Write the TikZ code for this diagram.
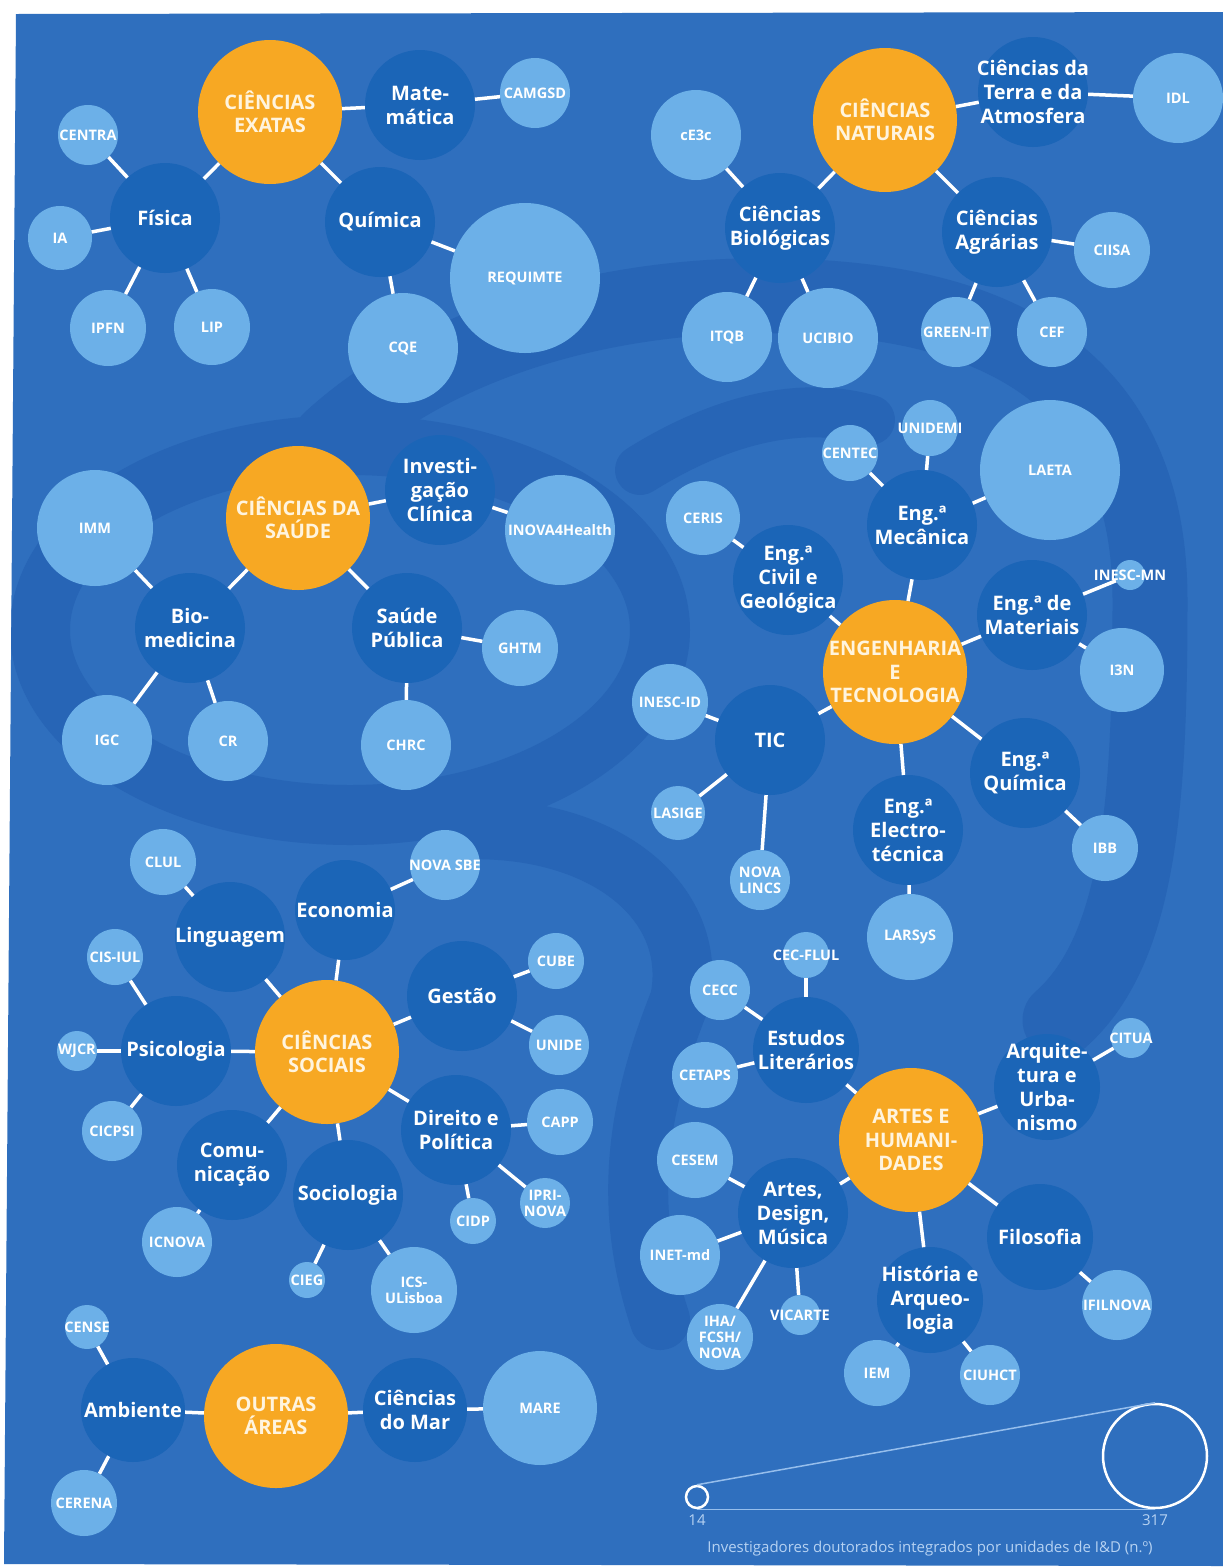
\documentclass[tikz,border=0pt]{standalone}
\usepackage{fontspec}
\setmainfont{Open Sans}
\usetikzlibrary{positioning}

\definecolor{page}{RGB}{47,111,190}
\definecolor{swirl}{RGB}{39,101,182}
\definecolor{fieldblue}{RGB}{27,101,183}
\definecolor{unitblue}{RGB}{108,176,232}
\definecolor{areaorange}{RGB}{247,168,35}
\definecolor{areatext}{RGB}{255,244,222}
\definecolor{scaleblue}{RGB}{150,190,236}

\tikzset{
	area/.style={
		shape = circle,
		fill = areaorange,
		inner sep = 0pt,
		minimum size = 144
	},
	field/.style={
		shape = circle,
		fill = fieldblue,
		inner sep = 0pt
	},
	unit/.style={
		shape = circle,
		fill = unitblue,
		inner sep = 0pt
	},
	areatxt/.style={text=areatext, align=center, font=\fontsize{20}{23.5}\selectfont\bfseries},
	fieldtxt/.style={text=white, align=center, font=\fontsize{20}{24}\selectfont\bfseries},
	unittxt/.style={text=white, align=center, font=\fontsize{14.5}{16}\selectfont\bfseries},
	link/.style={draw=white, line width=3.5pt},
	band/.style={draw=swirl, line cap=round},
	scalemark/.style={shape=circle, draw=white, line width=2.5pt, inner sep=0pt},
	scaleline/.style={draw=scaleblue, line width=1.5pt},
	scaletxt/.style={text=scaleblue!70!white, font=\fontsize{15}{17}\selectfont, inner sep=1pt},
}

\begin{document}
\begin{tikzpicture}[x=1pt, y=-1pt]
  \useasboundingbox (0,0) rectangle (1223,1567);
  \fill[white] (0,0) rectangle (1223,1567);
  \fill[page] (16,14) -- (1223,12) -- (1223,1566) -- (4,1564) -- cycle;

  % darker swirl behind the bubbles
  \begin{scope}
    \clip (16,14) -- (1223,12) -- (1223,1566) -- (4,1564) -- cycle;
    \draw[band, line width=75pt] (330,440) .. controls (450,330) and (650,280) .. (850,300)
      .. controls (1050,320) and (1150,420) .. (1150,600)
      .. controls (1150,800) and (1140,950) .. (1060,1020);
    \draw[band, line width=60pt] (350,630) ellipse [x radius=310, y radius=185];
    \draw[band, line width=60pt] (450,830) .. controls (600,820) and (700,900) .. (680,1000)
      .. controls (640,1100) and (620,1200) .. (660,1320);
    \draw[band, line width=50pt] (640,470) .. controls (720,420) and (800,400) .. (870,420);
  \end{scope}

  % research units
  \foreach \nd/\px/\py/\dia/\lbl in {
      camgsd/535/93/70/CAMGSD, centra/88/135/60/CENTRA, ia/60/238/64/IA,
      ipfn/108/328/76/IPFN, lip/212/327/76/LIP, requimte/525/278/150/REQUIMTE,
      cqe/403/348/110/CQE, idl/1178/98/90/IDL, cee3c/696/135/90/cE3c,
      itqb/727/337/90/ITQB, ucibio/828/338/100/UCIBIO, ciisa/1112/250/76/CIISA,
      greenit/956/332/70/GREEN-IT, cef/1052/332/70/CEF,
      inova/560/530/110/INOVA4Health, imm/95/528/116/IMM, igc/107/740/90/IGC,
      cr/228/741/80/CR, ghtm/520/648/76/GHTM, chrc/406/745/90/CHRC,
      unidemi/930/428/56/UNIDEMI, centec/850/453/56/CENTEC, laeta/1050/470/140/LAETA,
      ceris/703/518/74/CERIS, inescmn/1130/575/30/INESC-MN, i3n/1122/670/84/I3N,
      inescid/670/702/76/INESC-ID, lasige/678/813/54/LASIGE,
      novalincs/760/880/60/{NOVA\\LINCS}, ibb/1105/848/66/IBB, larsys/910/937/86/LARSyS,
      clul/163/862/66/CLUL, novasbe/445/865/70/{NOVA SBE}, cube/556/961/56/CUBE,
      unide/559/1045/60/UNIDE, cisiul/115/957/56/CIS-IUL, wjcr/77/1051/40/WJCR,
      cicpsi/112/1131/60/CICPSI, capp/560/1122/66/CAPP, iprinova/545/1203/50/{IPRI-\\NOVA},
      cidp/473/1221/46/CIDP, icnova/177/1242/70/ICNOVA, cieg/307/1280/36/CIEG,
      icsulisboa/414/1290/86/{ICS-\\ULisboa}, cecflul/806/955/46/CEC-FLUL,
      cecc/720/990/60/CECC, cetaps/705/1075/66/CETAPS, citua/1131/1038/40/CITUA,
      cesem/695/1160/76/CESEM, inetmd/680/1255/80/INET-md,
      iha/720/1337/66/{IHA/\\FCSH/\\NOVA}, vicarte/800/1315/40/VICARTE,
      ifilnova/1117/1305/70/IFILNOVA, iem/877/1373/66/IEM, ciuhct/990/1375/60/CIUHCT,
      cense/87/1327/44/CENSE, cerena/84/1503/66/CERENA, mare/540/1408/114/MARE}{
    \node[unit, minimum size=\dia] (\nd) at (\px,\py) {};
    \node[unittxt] at (\nd) {\lbl};
  }

  % scientific fields
  \foreach \nd/\px/\py/\dia/\lbl in {
      matematica/420/105/110/{Mate-\\mática}, fisica/165/218/110/Física,
      quimica/380/222/110/Química, terra/1033/92/110/{Ciências da\\Terra e da\\Atmosfera},
      biologicas/780/228/110/{Ciências\\Biológicas}, agrarias/997/232/110/{Ciências\\Agrárias},
      investigacao/440/490/110/{Investi-\\gação\\Clínica}, biomedicina/190/628/110/{Bio-\\medicina},
      publica/407/628/110/{Saúde\\Pública}, mecanica/922/525/110/{Eng.ª\\Mecânica},
      civil/788/580/110/{Eng.ª\\Civil e\\Geológica}, materiais/1032/615/110/{Eng.ª de\\Materiais},
      tic/770/740/110/TIC, equimica/1025/773/110/{Eng.ª\\Química},
      electro/908/830/110/{Eng.ª\\Electro-\\técnica}, linguagem/230/937/110/Linguagem,
      economia/345/910/100/Economia, gestao/462/996/110/Gestão,
      psicologia/176/1051/110/Psicologia, direito/456/1130/110/{Direito e\\Política},
      comunicacao/232/1165/110/{Comu-\\nicação}, sociologia/348/1195/110/Sociologia,
      estudos/806/1050/106/{Estudos\\Literários}, arquitetura/1047/1087/106/{Arquite-\\tura e\\Urba-\\nismo},
      adm/793/1213/110/{Artes,\\Design,\\Música}, filosofia/1040/1237/106/Filosofia,
      historia/930/1300/106/{História e\\Arqueo-\\logia}, ambiente/133/1410/104/Ambiente,
      mar/415/1410/104/{Ciências\\do Mar}}{
    \node[field, minimum size=\dia] (\nd) at (\px,\py) {};
    \node[fieldtxt] at (\nd) {\lbl};
  }

  % the seven areas
  \foreach \nd/\px/\py/\lbl in {
      exatas/270/112/{CIÊNCIAS\\EXATAS}, naturais/885/120/{CIÊNCIAS\\NATURAIS},
      saude/298/518/{CIÊNCIAS DA\\SAÚDE}, engenharia/895/672/{ENGENHARIA\\E\\TECNOLOGIA},
      sociais/327/1052/{CIÊNCIAS\\SOCIAIS}, artes/911/1140/{ARTES E\\HUMANI-\\DADES},
      outras/276/1416/{OUTRAS\\ÁREAS}}{
    \node[area] (\nd) at (\px,\py) {};
    \node[areatxt] at (\nd) {\lbl};
  }

  % links
  \foreach \a/\b in {
      exatas/matematica, matematica/camgsd, exatas/fisica, exatas/quimica,
      fisica/centra, fisica/ia, fisica/ipfn, fisica/lip, quimica/requimte, quimica/cqe,
      naturais/terra, terra/idl, naturais/biologicas, naturais/agrarias,
      biologicas/cee3c, biologicas/itqb, biologicas/ucibio,
      agrarias/ciisa, agrarias/greenit, agrarias/cef,
      saude/investigacao, investigacao/inova, saude/biomedicina, saude/publica,
      biomedicina/imm, biomedicina/igc, biomedicina/cr, publica/ghtm, publica/chrc,
      engenharia/mecanica, mecanica/unidemi, mecanica/centec, mecanica/laeta,
      engenharia/civil, civil/ceris, engenharia/materiais, materiais/inescmn, materiais/i3n,
      engenharia/tic, tic/inescid, tic/lasige, tic/novalincs,
      engenharia/equimica, equimica/ibb, engenharia/electro, electro/larsys,
      sociais/linguagem, linguagem/clul, sociais/economia, economia/novasbe,
      sociais/gestao, gestao/cube, gestao/unide,
      sociais/psicologia, psicologia/cisiul, psicologia/wjcr, psicologia/cicpsi,
      sociais/direito, direito/capp, direito/iprinova, direito/cidp,
      sociais/comunicacao, comunicacao/icnova, sociais/sociologia,
      sociologia/cieg, sociologia/icsulisboa,
      artes/estudos, estudos/cecflul, estudos/cecc, estudos/cetaps,
      artes/arquitetura, arquitetura/citua, artes/adm, adm/cesem, adm/inetmd,
      adm/iha, adm/vicarte, artes/filosofia, filosofia/ifilnova,
      artes/historia, historia/iem, historia/ciuhct,
      outras/ambiente, ambiente/cense, ambiente/cerena, outras/mar, mar/mare}{
    \draw[link] (\a) -- (\b);
  }

  % size scale
  \node[scalemark, minimum size=22] (smin) at (697,1497) {};
  \node[scalemark, minimum size=104] (smax) at (1155,1456) {};
  \draw[scaleline] (smin.north) -- (smax.north);
  \draw[scaleline] (smin.south) -- (smax.south);
  \node[scaletxt, below=4pt of smin] {14};
  \node[scaletxt, below=4pt of smax] {317};
  \node[scaletxt] (caption) at (930,1549) {Investigadores doutorados integrados por unidades de I\&D (n.º)};
\end{tikzpicture}
\end{document}
